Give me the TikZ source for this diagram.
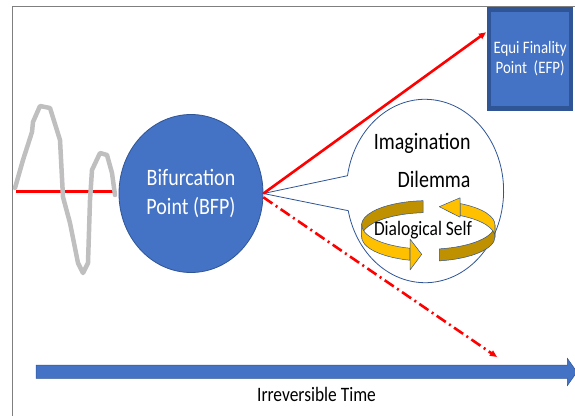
\documentclass[tikz,border=0pt]{standalone}
\usepackage{fontspec}
\setmainfont{Carlito}[FakeStretch=0.85]
\usetikzlibrary{arrows.meta,shapes.geometric,calc}
\definecolor{boxblue}{HTML}{4472C4}
\definecolor{edgeblue}{HTML}{2F5597}
\definecolor{gold}{HTML}{FFC000}
\definecolor{darkgold}{HTML}{BF9000}
\definecolor{wavegray}{HTML}{BFBFBF}
\definecolor{framegray}{HTML}{7F7F7F}
\tikzset{
  redline/.style={draw=red, line width=2.6pt},
  redtip/.style={-{Triangle[length=7pt,width=6pt]}},
  bfpshape/.style={ellipse, fill=boxblue, draw=edgeblue, line width=0.8pt,
    minimum width=144pt, minimum height=158pt, inner sep=0pt,
    text=white, align=center, font=\fontsize{23.5}{29}\selectfont},
  efpbox/.style={rectangle, fill=boxblue, draw=edgeblue, line width=4.3pt,
    minimum width=82pt, minimum height=99pt, inner sep=0pt,
    text=white, align=center, font=\fontsize{17.5}{20}\selectfont},
  bubble/.style={fill=white, draw=edgeblue, line width=0.8pt},
  bubbletext/.style={font=\fontsize{23.5}{28}\selectfont, inner sep=0pt},
  ringpart/.style={draw=edgeblue, line width=0.5pt, line join=round},
}
%% one piece of the turning ribbon: colour, start angle, end angle
\newcommand\ribbonpart[3]{%
  \filldraw[ringpart, fill=#1] ($(ring)+(#2:66.7pt and 24.3pt)+(0,6)$)
    arc[start angle=#2, end angle=#3, x radius=66.7pt, y radius=24.3pt]
    -- ++(0,-12)
    arc[start angle=#3, end angle=#2, x radius=66.7pt, y radius=24.3pt] -- cycle;}
\begin{document}
\begin{tikzpicture}[x=1pt,y=1pt]
  \useasboundingbox (0,0) rectangle (575,416);
  %% frame
  \draw[framegray, line width=0.8pt] (575,409.3) -- (12.8,409.3) -- (12.8,0);
  %% end box
  \node[efpbox, anchor=north west] (efp) at (487,408.7) {Equi Finality\\Point\ \ (EFP)};
  %% wave before the bifurcation
  \coordinate (wavestart) at (16,225);
  \node[bfpshape] (bfp) at (191,222.5) {Bifurcation\\Point (BFP)};
  \draw[redline, line width=3pt, shorten >=5.5pt] (wavestart) -- (wavestart -| bfp.west);
  \draw[wavegray, line width=4.5pt, line join=round, line cap=round]
    plot coordinates {(15,228) (23,256) (32,284) (33,294) (40,310) (50,308)
      (60,276) (63,219) (70,193) (78,153) (83,143) (88,153) (90,216) (92,246)
      (100,263) (107,261) (112,243) (115,221)};
  %% speech bubble
  \coordinate (bubblec) at (425,225);
  \filldraw[bubble] (bfp.east) -- ($(bubblec)+(170.4:78.6pt and 91.7pt)$)
    arc[start angle=170.4, end angle=-167.6, x radius=78.6pt, y radius=91.7pt] -- cycle;
  \node[bubbletext, anchor=base east] (imag) at (470.7,267) {Imagination};
  \node[bubbletext, anchor=base east] (dilem) at (470.7,229) {Dilemma};
  %% circular arrows
  \coordinate (ring) at (428.3,185.1);
  \ribbonpart{darkgold}{94.5}{185}
  \ribbonpart{darkgold}{279.6}{360}
  \ribbonpart{gold}{178}{254}
  \ribbonpart{gold}{-2}{61.6}
  \filldraw[ringpart, fill=gold] (410,177) -- (421.7,161.7) -- (410,146) -- cycle;
  \filldraw[ringpart, fill=gold] (460,218.2) -- (439.3,209.3) -- (460,198.8) -- cycle;
  \node[font=\fontsize{20.5}{24}\selectfont, inner sep=0pt, anchor=base] (dself) at (423,181) {Dialogical Self};
  %% paths out of the bifurcation point
  \coordinate (pathend) at (497,59);
  \draw[redline, redtip] (bfp.east) -- ($(efp.north west)+(-1,-25)$);
  \draw[redline, redtip, dash pattern=on 11pt off 4pt on 2pt off 4pt] (bfp.-3) -- (pathend);
  %% time axis
  \fill[boxblue, draw=edgeblue, line width=0.5pt]
    (36,37.7) -- (567.3,37.7) -- (567.3,30.3) -- (577,44) -- (567.3,57.7) -- (567.3,51) -- (36,51) -- cycle;
  \node[font=\fontsize{20.5}{24}\selectfont, inner sep=0pt, anchor=base] (timelbl) at (316.5,15) {Irreversible Time};
\end{tikzpicture}
\end{document}
